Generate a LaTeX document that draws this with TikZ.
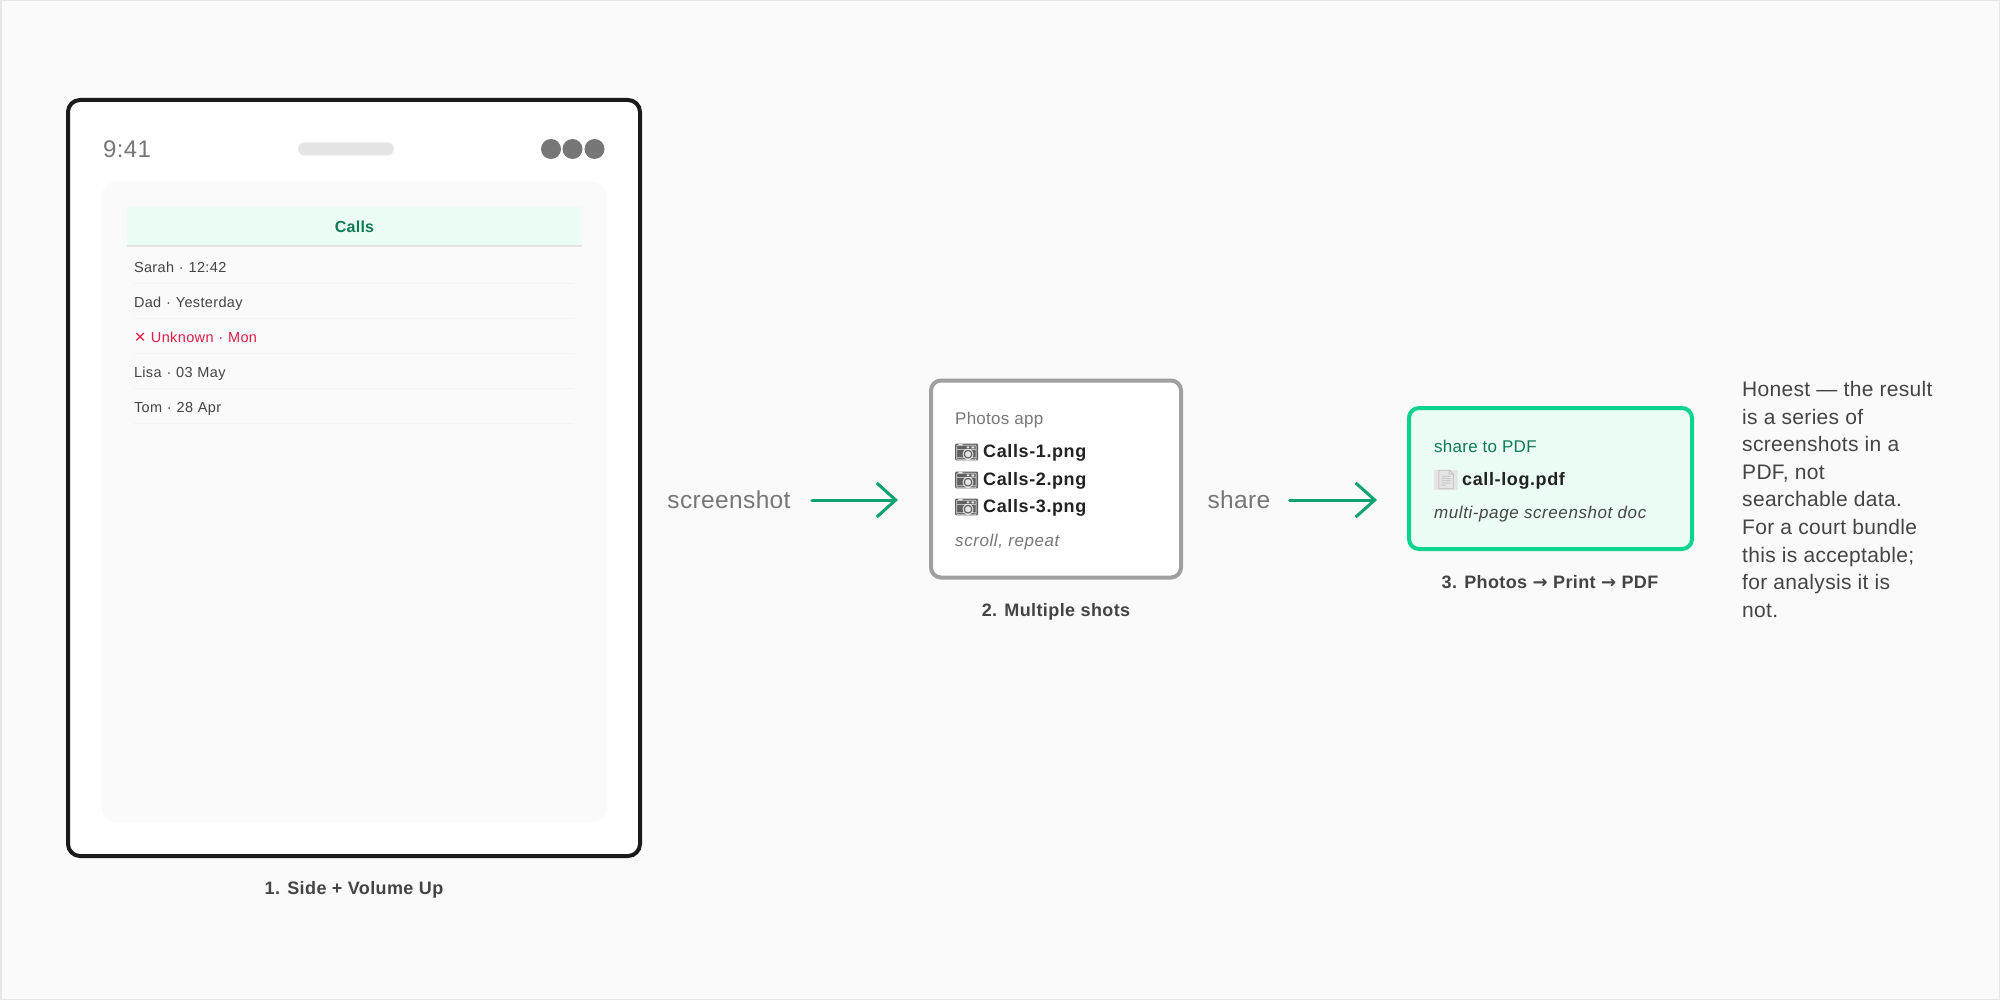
\documentclass[tikz,border=0pt]{standalone}
\usepackage{xcolor}
\usepackage{fontspec}
\setmainfont{Liberation Sans}[LetterSpace=1.5]
\newfontfamily\emojifont{Noto Emoji}
\newfontfamily\symfont{DejaVu Sans}
\usepackage{tikz}
\usetikzlibrary{shapes,arrows.meta}
\definecolor{pagebg}{HTML}{FAFAFA}
\definecolor{pageframe}{HTML}{E6E6E6}
\definecolor{phoneline}{HTML}{1A1A1A}
\definecolor{muted}{HTML}{777777}
\definecolor{pillgray}{HTML}{E5E5E5}
\definecolor{mint}{HTML}{ECFDF5}
\definecolor{minttext}{HTML}{0F7A55}
\definecolor{mintline}{HTML}{0BD48F}
\definecolor{arrowgreen}{HTML}{10A36F}
\definecolor{rowtext}{HTML}{444444}
\definecolor{rowred}{HTML}{E11D48}
\definecolor{boxgray}{HTML}{A0A0A0}
\definecolor{filetext}{HTML}{222222}
\tikzstyle{phone} = [rectangle, draw=phoneline, fill=white, line width=4pt, rounded corners=12pt]
\tikzstyle{screen} = [rectangle, fill=pagebg, rounded corners=14pt]
\tikzstyle{dot} = [circle, fill=muted, minimum size=20pt, inner sep=0pt]
\tikzstyle{row} = [inner sep=0pt, text width=440pt, minimum height=35pt, text height=13.5pt, text depth=0pt, font=\fontsize{14.5}{16}\selectfont\addfontfeature{LetterSpace=2.5}, text=rowtext]
\tikzstyle{caption} = [inner sep=0pt, yshift=-1.5pt, font=\fontsize{18}{22}\selectfont\bfseries\addfontfeature{LetterSpace=2.2}, text=rowtext]
\tikzstyle{steplabel} = [inner sep=0pt, font=\fontsize{24.5}{28}\selectfont, text=muted]
\tikzstyle{boxtext} = [inner sep=0pt, anchor=west, yshift=-2pt, text height=12pt, text depth=4pt, font=\fontsize{17}{20}\selectfont]
\tikzstyle{boxnote} = [boxtext, font=\fontsize{17}{20}\selectfont\itshape\addfontfeature{LetterSpace=3.4}]
\tikzstyle{filetext} = [inner sep=0pt, anchor=west, yshift=-1pt, text height=14pt, text depth=4pt, font=\fontsize{18}{22}\selectfont\bfseries\addfontfeature{LetterSpace=3.4}, text=filetext]
\tikzstyle{camera} = [inner sep=0pt, anchor=west, fill=rowtext!85, text=pillgray, rounded corners=1pt, font=\fontsize{18}{22}\selectfont\emojifont]
\tikzstyle{page} = [inner sep=0pt, anchor=west, fill=pillgray, text=boxgray!70, font=\fontsize{19}{22}\selectfont\emojifont]
\tikzstyle{arrow} = [draw=arrowgreen, line width=3pt, line cap=round, -{Straight Barb[length=19pt,width=34pt,line width=3pt]}]
\tikzstyle{line} = [draw=boxgray!12, line width=1pt]
\begin{document}
\begin{tikzpicture}[x=1pt, y=-1pt, node distance=35pt]
	\useasboundingbox (0,0) rectangle (2000,1000);
	\fill [pagebg] (0,0) rectangle (2000,1000);
	\draw [pageframe, line width=3pt] (0,0) rectangle (2000,1000);

	% Place nodes
	\node [phone, minimum width=572pt, minimum height=756pt] (phone) at (354,478) {};
	\node [screen, minimum width=505pt, minimum height=640pt] (screen) at (354.5,502) {};
	\node [inner sep=0pt, anchor=west, font=\fontsize{24}{28}\selectfont, text=muted] (clock) at (103,149) {9:41};
	\node [rectangle, fill=pillgray, rounded corners=6.5pt, minimum width=96pt, minimum height=13pt, inner sep=0pt] (pill) at (346,149) {};
	\node [dot] (dotOne) at (551,149) {};
	\node [dot] (dotTwo) at (572.5,149) {};
	\node [dot] (dotThree) at (594.5,149) {};
	\node [fill=mint, inner sep=0pt, minimum width=455pt, minimum height=39pt, text=minttext, font=\fontsize{16}{20}\selectfont\bfseries] (header) at (354.5,226.5) {Calls};

	\node [row] (rowSarah) at (354,265.5) {Sarah · 12:42};
	\node [row, below of=rowSarah] (rowDad) {Dad · Yesterday};
	\node [row, below of=rowDad, text=rowred] (rowUnknown) {{\symfont ✕} Unknown · Mon};
	\node [row, below of=rowUnknown] (rowLisa) {Lisa · 03 May};
	\node [row, below of=rowLisa] (rowTom) {Tom · 28 Apr};
	\node [caption] (captionOne) at (354,888) {1. Side + Volume Up};

	\node [steplabel] (shotLabel) at (729,500) {screenshot};
	\node [rectangle, draw=boxgray, fill=white, line width=4pt, rounded corners=10pt, minimum width=250pt, minimum height=197pt] (photosBox) at (1056,479) {};
	\node [boxtext, text=muted] (photosTitle) at (955,418) {Photos app};
	\node [camera] (camOne) at (955,452) {📷};
	\node [filetext] (fileOne) at (983,451) {Calls-1.png};
	\node [camera] (camTwo) at (955,480) {📷};
	\node [filetext] (fileTwo) at (983,479) {Calls-2.png};
	\node [camera] (camThree) at (955,507) {📷};
	\node [filetext] (fileThree) at (983,506) {Calls-3.png};
	\node [boxnote, text=muted] (photosNote) at (955,540) {scroll, repeat};
	\node [caption] (captionTwo) at (1056,610) {2. Multiple shots};

	\node [steplabel] (shareLabel) at (1239,500) {share};
	\node [rectangle, draw=mintline, fill=mint, line width=4pt, rounded corners=10pt, minimum width=283pt, minimum height=141pt] (pdfBox) at (1550.5,478.5) {};
	\node [boxtext, text=minttext] (pdfTitle) at (1434,446) {share to PDF};
	\node [page] (pdfIcon) at (1434,480) {📄};
	\node [filetext] (pdfFile) at (1462,479) {call-log.pdf};
	\node [boxnote, text=rowtext] (pdfNote) at (1434,512) {multi-page screenshot doc};
	\node [caption] (captionThree) at (1550,581) {3. Photos {\symfont\bfseries →} Print {\symfont\bfseries →} PDF};

	\node [inner sep=0pt, anchor=north west, align=left, text=rowtext, font=\fontsize{21}{27.6}\selectfont] (honestNote) at (1742,381) {Honest — the result\\is a series of\\screenshots in a\\PDF, not\\searchable data.\\For a court bundle\\this is acceptable;\\for analysis it is\\not.};

	% Draw edges
	\draw [pillgray, line width=2pt] (header.south west) -- (header.south east);
	\path [line] (rowSarah.south west) -- (rowSarah.south east);
	\path [line] (rowDad.south west) -- (rowDad.south east);
	\path [line] (rowUnknown.south west) -- (rowUnknown.south east);
	\path [line] (rowLisa.south west) -- (rowLisa.south east);
	\path [line] (rowTom.south west) -- (rowTom.south east);

	\path [arrow, shorten <=21pt, shorten >=31pt] (shotLabel.east) -- (photosBox.west |- shotLabel.east);
	\path [arrow, shorten <=19pt, shorten >=30pt] (shareLabel.east) -- (pdfBox.west |- shareLabel.east);
\end{tikzpicture}
\end{document}
